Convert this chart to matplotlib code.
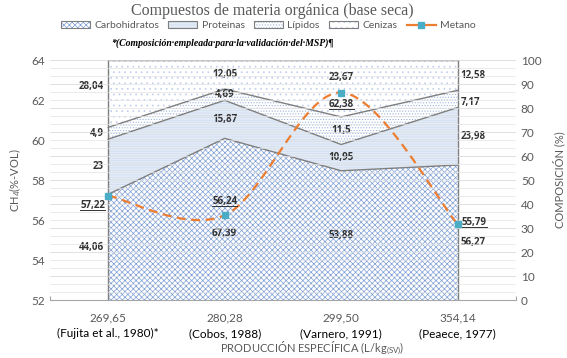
import numpy as np
import matplotlib
matplotlib.use("Agg")
import matplotlib.pyplot as plt
from matplotlib.patches import Patch
from matplotlib.lines import Line2D
from matplotlib.legend_handler import HandlerTuple

plt.rcParams['font.family'] = ['Lato', 'DejaVu Sans']
plt.rcParams['mathtext.fontset'] = 'custom'
plt.rcParams['mathtext.rm'] = 'Lato'
plt.rcParams['hatch.linewidth'] = 0.5

# data
produccion = ['269,65', '280,28', '299,50', '354,14']
fuentes = ['(Fujita et al., 1980)*', '(Cobos, 1988)', '(Varnero, 1991)', '(Peaece, 1977)']
carbohidratos = [44.06, 67.39, 53.88, 56.27]
proteinas = [23.0, 15.87, 10.95, 23.98]
lipidos = [4.9, 4.69, 11.5, 7.17]
cenizas = [28.04, 12.05, 23.67, 12.58]
metano = [57.22, 56.24, 62.38, 55.79]

gray_txt = '#595959'
lbl_txt = '#333333'
orange = '#ED7D31'
teal = '#4BACC6'
edge = '#7F7F7F'

fig = plt.figure(figsize=(5.67, 3.58), dpi=100)
ax = fig.add_axes([0.088, 0.162, 0.822, 0.670])   # composition (right)
axm = ax.twinx()                                   # methane (left)

x = np.arange(len(produccion))
layers = [
    ('Carbohidratos', carbohidratos, 'white', 'xxxxxx', '#7F9FD6'),
    ('Proteinas', proteinas, '#E3EBF6', '-------', '#CFDCEF'),
    ('Lípidos', lipidos, 'white', '......', '#9FB6DE'),
    ('Cenizas', cenizas, 'white', '...', '#BFCFEA'),
]

base = np.zeros(len(x))
handles = []
centers = []
for name, vals, fc, hatch, hc in layers:
    top = base + np.array(vals)
    ax.fill_between(x, base, top, facecolor=fc, zorder=2, lw=0)
    ax.fill_between(x, base, top, facecolor='none', hatch=hatch, edgecolor=hc, lw=0, zorder=2)
    ax.plot(x, top, color=edge, lw=1, zorder=3)
    centers.append((base + top) / 2)
    handles.append((Patch(facecolor=fc, hatch=hatch, edgecolor=hc, lw=0),
                    Patch(facecolor='none', edgecolor=edge, lw=0.8)))
    base = top
for xe in (x[0], x[-1]):
    ax.plot([xe, xe], [0, 100], color=edge, lw=1, zorder=3)

ax.set_xlim(-0.5, 3.5)
ax.set_ylim(0, 100)
ax.yaxis.tick_right()
ax.yaxis.set_label_position('right')
ax.set_yticks(np.arange(0, 101, 10))
ax.set_axisbelow(True)
ax.grid(axis='y', color='#D9D9D9', lw=0.6, zorder=0)
ax.set_ylabel('COMPOSICIÓN (%)', color=gray_txt, fontsize=8, labelpad=8)

# methane axis
axm.yaxis.tick_left()
axm.yaxis.set_label_position('left')
axm.set_ylim(52, 64)
axm.set_yticks(np.arange(52, 65, 2))
axm.set_yticks(np.arange(52, 64, 0.4), minor=True)
axm.grid(axis='y', which='both', color='#E3E3E3', lw=0.5, zorder=0)
axm.set_ylabel('CH$_4$(%-VOL)', color=gray_txt, fontsize=8, labelpad=6)

# smooth line (excel style bezier through the points)
px = x.astype(float)
py = np.array(metano)
pts = np.column_stack([px, py])
ext = np.vstack([pts[0], pts, pts[-1]])
curve = []
tt = np.linspace(0, 1, 60)
for i in range(len(pts) - 1):
    p0, p1, p2, p3 = ext[i], ext[i + 1], ext[i + 2], ext[i + 3]
    c1 = p1 + (p2 - p0) / 6
    c2 = p2 - (p3 - p1) / 6
    b = ((1 - tt) ** 3)[:, None] * p1 + (3 * (1 - tt) ** 2 * tt)[:, None] * c1 \
        + (3 * (1 - tt) * tt ** 2)[:, None] * c2 + (tt ** 3)[:, None] * p2
    curve.append(b)
curve = np.vstack(curve)
axm.plot(curve[:, 0], curve[:, 1], color=orange, lw=1.6, ls=(0, (4, 2.5)), zorder=4)
axm.plot(px, py, ls='none', marker='s', ms=5, color=teal, zorder=5)

for a in (ax, axm):
    for s in a.spines.values():
        s.set_visible(False)
    a.tick_params(axis='y', length=0, colors=gray_txt, labelsize=8.5, which='both')
ax.spines['bottom'].set_visible(True)
ax.spines['bottom'].set_color('#A6A6A6')
ax.set_xticks(np.arange(-0.5, 3.6, 1))
ax.set_xticklabels([])
ax.tick_params(axis='x', direction='in', length=3, color='#A6A6A6')
axm.tick_params(axis='x', length=0)

for i in x:
    ax.text(i, -0.075, produccion[i], transform=ax.get_xaxis_transform(),
            ha='center', va='center', color=gray_txt, fontsize=8.5)
    ax.text(i, -0.14, fuentes[i], transform=ax.get_xaxis_transform(),
            ha='center', va='center', color='black', fontsize=8.5)
fig.text(0.55, 0.028, 'PRODUCCIÓN ESPECÍFICA (L/kg$_{\\mathrm{(SV)}}$)', ha='center',
         va='center', color=gray_txt, fontsize=8)

# data labels
shift = {(1, 0): -14, (2, 3): 11, (0, 3): 7, (3, 0): -10, (3, 2): -4}
for j, (name, vals, *_ ) in enumerate(layers):
    for i in x:
        if i == 0:
            ha, dx = 'right', -3
        elif i == x[-1]:
            ha, dx = 'left', 2
        else:
            ha, dx = 'center', 0
        txt = f'{vals[i]:g}'.replace('.', ',')
        ax.annotate(txt, (i, centers[j][i]), xytext=(dx, shift.get((i, j), 0) * 0.72),
                    textcoords='offset points', ha=ha, va='center', fontsize=7,
                    family='Open Sans', fontweight='bold', color=lbl_txt, zorder=6)

met_off = [(-3, -10, 'right'), (0, 14, 'center'), (0, -12, 'center'), (4, 2, 'left')]
met_txt = []
for i in x:
    dx, dy, ha = met_off[i]
    t = axm.annotate(f'{metano[i]:.2f}'.replace('.', ','), (i, metano[i]),
                     xytext=(dx * 0.72, dy * 0.72), textcoords='offset points', ha=ha,
                     va='center', fontsize=7, family='Open Sans', fontweight='bold',
                     color=lbl_txt, zorder=6)
    met_txt.append(t)

fig.text(0.48, 0.968, 'Compuestos de materia orgánica (base seca)', ha='center', va='center',
         family='Liberation Serif', fontsize=11.5, color=gray_txt)
fig.text(0.392, 0.88, '*(Composición·empleada·para·la·validación·del·MSP)¶', ha='center',
         va='center', family='Liberation Serif', style='italic', fontweight='bold',
         fontsize=7, color='black')

handles.append(Line2D([0], [0], color=orange, lw=1.6, marker='s', ms=5,
                      markerfacecolor=teal, markeredgecolor=teal))
fig.legend(handles, [l[0] for l in layers] + ['Metano'], loc='center', ncol=5,
           bbox_to_anchor=(0.473, 0.928), frameon=False, fontsize=7.5, handlelength=2.8,
           handleheight=0.7, columnspacing=0.9, handletextpad=0.4, labelcolor=gray_txt,
           handler_map={tuple: HandlerTuple(ndivide=1, pad=0)})

# underline methane labels
fig.canvas.draw()
r = fig.canvas.get_renderer()
inv = fig.transFigure.inverted()
for t in met_txt:
    bb = t.get_window_extent(r)
    (x0, y0), (x1, _) = inv.transform([[bb.x0, bb.y0 + 1], [bb.x1, bb.y0]])
    fig.add_artist(Line2D([x0, x1], [y0, y0], color=lbl_txt, lw=0.7))

fig.savefig('out.png', dpi=100)
